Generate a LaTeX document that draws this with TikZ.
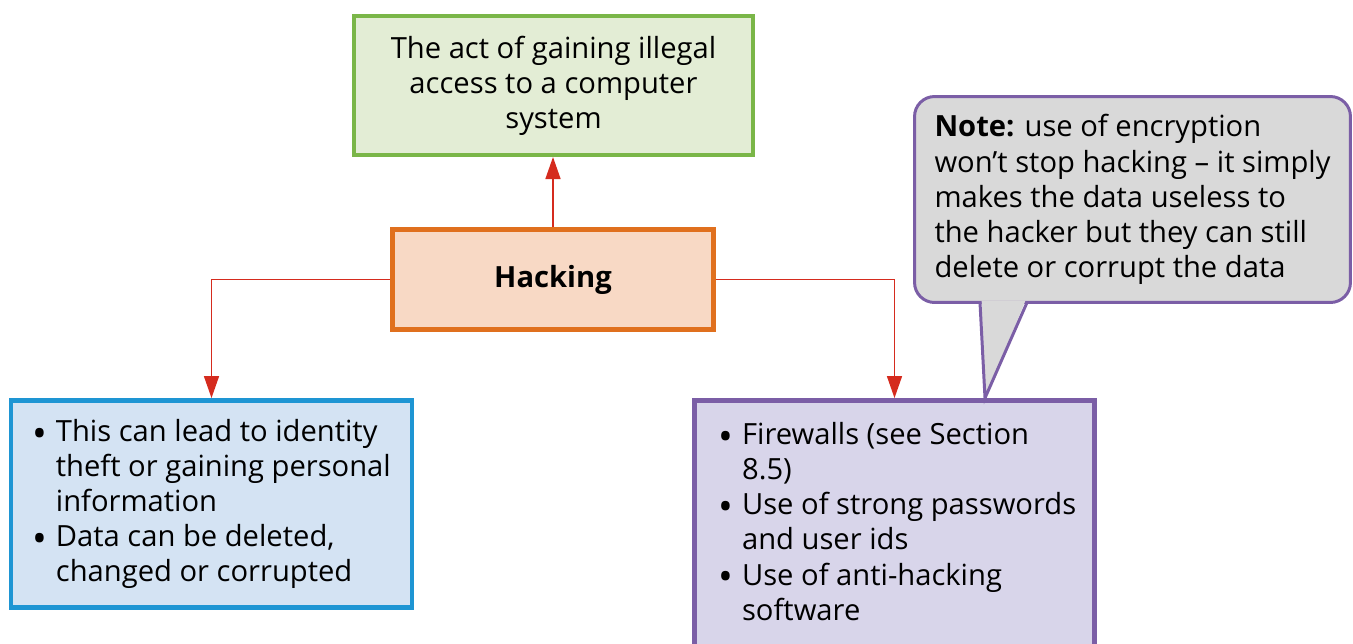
\documentclass[tikz,border=0pt]{standalone}
\usepackage{fontspec}
\setmainfont{Open Sans}
\usetikzlibrary{arrows.meta,positioning,calc}
\definecolor{DefGreen}{HTML}{7AB648}
\definecolor{DefGreenFill}{HTML}{E3EDD5}
\definecolor{HackOrange}{HTML}{E0701E}
\definecolor{HackOrangeFill}{HTML}{F8D9C5}
\definecolor{RiskBlue}{HTML}{1E95D3}
\definecolor{RiskBlueFill}{HTML}{D4E3F3}
\definecolor{GuardPurple}{HTML}{7B5EA6}
\definecolor{GuardPurpleFill}{HTML}{D8D5EA}
\definecolor{NoteGrey}{HTML}{D9D9D9}
\definecolor{LinkRed}{HTML}{D52B1E}
\newcommand{\bul}{\makebox[13.5pt][l]{\raisebox{-0.2em}{\scalebox{1.35}{\textbullet}}}}
\newcommand{\ind}{\hspace*{13.5pt}}

\begin{document}
\begin{tikzpicture}[
      x=0.02cm,y=-0.02cm,
      box/.style={draw,inner sep=0pt,align=center,font=\fontsize{16.6}{20}\selectfont},
      defbox/.style={box,draw=DefGreen,fill=DefGreenFill,line width=2.3pt,minimum width=7.98cm,minimum height=2.78cm},
      hackbox/.style={box,draw=HackOrange,fill=HackOrangeFill,line width=2.8pt,minimum width=6.42cm,minimum height=2cm},
      riskbox/.style={box,align=left,draw=RiskBlue,fill=RiskBlueFill,line width=2.8pt,minimum width=8.02cm,minimum height=4.14cm},
      guardbox/.style={box,draw=GuardPurple,fill=GuardPurpleFill,line width=2.8pt,minimum width=8cm,minimum height=5.6cm},
      listtext/.style={inner sep=0pt,align=left,font=\fontsize{16.6}{20}\selectfont},
      notebox/.style={box,align=left,draw=GuardPurple,fill=NoteGrey,line width=1.7pt,rounded corners=0.4cm,minimum width=8.72cm,minimum height=4.12cm},
      arrow/.style={-{Triangle[length=4.4mm,width=3mm]},draw=LinkRed,line width=0.85pt}
    ]
      \path[use as bounding box] (0,0) rectangle (1353,643);
      \clip (0,0) rectangle (1353,643);

      \node[defbox] (def) at (553.5,85.5) {The act of gaining illegal\\access to a computer\\system};
      \node[hackbox] (hack) at (553,279.5) {\textbf{Hacking}};
      \node[riskbox] (risk) at (211.5,504) {\bul This can lead to identity\\\ind theft or gaining personal\\\ind information\\\bul Data can be deleted,\\\ind changed or corrupted};
      \node[guardbox] (guard) at (894.5,540.5) {};
      \node[listtext,anchor=north west] (guardlist) at (718,422) {\bul Firewalls (see Section\\\ind 8.5)\\\bul Use of strong passwords\\\ind and user ids\\\bul Use of anti-hacking\\\ind software};
      \node[notebox] (note) at (1132.5,199.5) {\textbf{Note:} use of encryption\\won't stop hacking -- it simply\\makes the data useless to\\the hacker but they can still\\delete or corrupt the data};

      % speech bubble pointer
      \coordinate (tipl) at (980,302.5);
      \coordinate (tipr) at (1027,302.5);
      \coordinate (tip) at (985,398);
      \fill[NoteGrey] ($(tipl)+(1.5,-2)$) -- (tip) -- ($(tipr)+(-1.5,-2)$) -- cycle;
      \draw[GuardPurple,line width=1.7pt,line join=miter] (tipl) -- (tip) -- (tipr);

      \draw[arrow] (hack.north) -- (hack.north |- def.south);
      \draw[arrow] (hack.west) -| (risk.north);
      \draw[arrow] (hack.east) -| (guard.north);
    \end{tikzpicture}
\end{document}
